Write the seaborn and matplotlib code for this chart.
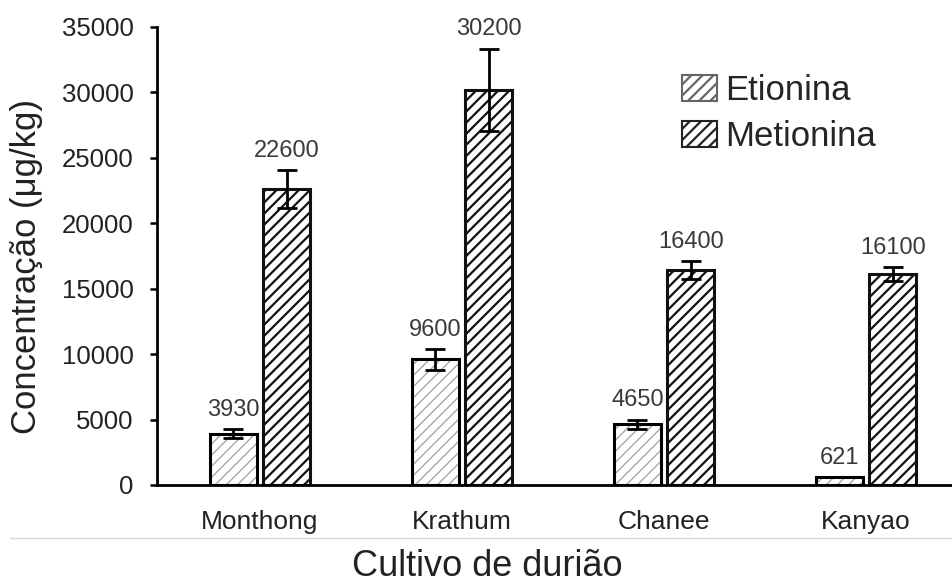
import numpy as np
import pandas as pd
import matplotlib.pyplot as plt
import seaborn as sns
from matplotlib.patches import Rectangle, Patch
from matplotlib.lines import Line2D

cultivars = ["Monthong", "Krathum", "Chanee", "Kanyao"]
series = ["Etionina", "Metionina"]
etionina = [3930, 9600, 4650, 621]
metionina = [22600, 30200, 16400, 16100]
etionina_err = [340, 800, 340, 0]
metionina_err = [1450, 3150, 690, 530]
yticks = [0, 5000, 10000, 15000, 20000, 25000, 30000, 35000]

df = pd.DataFrame({
    "cultivo":  cultivars * 2,
    "composto": [series[0]] * 4 + [series[1]] * 4,
    "valor":    etionina + metionina,
    "erro":     etionina_err + metionina_err,
})

sns.set_style("ticks")
plt.rcParams["font.family"] = ["Liberation Sans", "DejaVu Sans"]
plt.rcParams["hatch.linewidth"] = 1.6

fig = plt.figure(figsize=(9.53, 5.85), dpi=100)
W, H = 953, 585
ax = fig.add_axes([157 / W, 1 - 485 / H, (W - 157) / W, (485 - 27) / H])

sns.barplot(data=df, x="cultivo", y="valor", hue="composto",
            order=cultivars, hue_order=series, palette=["white", "white"],
            width=0.53, gap=0.12, edgecolor="black", linewidth=2.2,
            errorbar=None, legend=False, ax=ax)

# hatches: light grey for Etionina, dark for Metionina
for i, cont in enumerate(ax.containers):
    for bar in cont:
        if i == 0:
            bar.set_hatch("///")
            bar.set_edgecolor("#a0a0a0")
            bar.set_linewidth(0)
            try:
                bar.set_hatch_linewidth(0.9)
            except AttributeError:
                pass
            ax.add_patch(Rectangle((bar.get_x(), 0), bar.get_width(), bar.get_height(),
                                   fill=False, edgecolor="black", lw=2.2, zorder=bar.get_zorder() + 0.1))
        else:
            bar.set_hatch("///")
            bar.set_edgecolor("#111111")

# error bars and value labels
for cont, errs in zip(ax.containers, [etionina_err, metionina_err]):
    for bar, err in zip(cont, errs):
        x = bar.get_x() + bar.get_width() / 2
        h = bar.get_height()
        if err > 0:
            ax.errorbar(x, h, yerr=err, fmt="none", ecolor="black",
                        elinewidth=2, capsize=7, capthick=2, zorder=5)
        ax.annotate(f"{int(h)}", (x, h + err), xytext=(0, 6), textcoords="offset points",
                    ha="center", va="bottom", fontsize=17, color="#3a3a3a")

ax.set_xlim(-0.51, 3.43)
ax.set_ylim(0, 35000)
ax.set_yticks(yticks)
ax.set_yticklabels([str(t) for t in yticks])
for s in ["top", "right"]:
    ax.spines[s].set_visible(False)
for s in ["left", "bottom"]:
    ax.spines[s].set_linewidth(2)
    ax.spines[s].set_color("black")
ax.tick_params(axis="y", length=5, width=1.8, pad=12, labelsize=18.5, colors="black")
ax.tick_params(axis="x", length=0, pad=18, labelsize=19)
for lbl in ax.get_yticklabels():
    lbl.set_color("#222222")
for lbl in ax.get_xticklabels():
    lbl.set_color("#222222")

ax.set_ylabel("Concentração (μg/kg)", fontsize=25, va="center", color="#222222")
ax.yaxis.set_label_coords((27 - 157) / (W - 157), (485 - 266) / (485 - 27))
ax.set_xlabel("Cultivo de durião", fontsize=26, va="center", color="#222222")
ax.xaxis.set_label_coords((487 - 157) / (W - 157), (485 - 567) / (485 - 27))

# thin grey separator above the x label
fig.add_artist(Line2D([10 / W, 1], [1 - 538 / H] * 2, transform=fig.transFigure,
                      color="#d8d8d8", lw=1))

handles = [
    Patch(facecolor="white", edgecolor="#666666", hatch="///", lw=1.5),
    Patch(facecolor="white", edgecolor="#222222", hatch="///", lw=1.5),
]
fig.legend(handles, series, loc="upper left", bbox_to_anchor=(682 / W, 1 - 74 / H),
           frameon=False, fontsize=25, handlelength=1.0, handleheight=0.75,
           handletextpad=0.25, labelspacing=0.38, borderaxespad=0, borderpad=0)

fig.savefig("out.png", dpi=100)
